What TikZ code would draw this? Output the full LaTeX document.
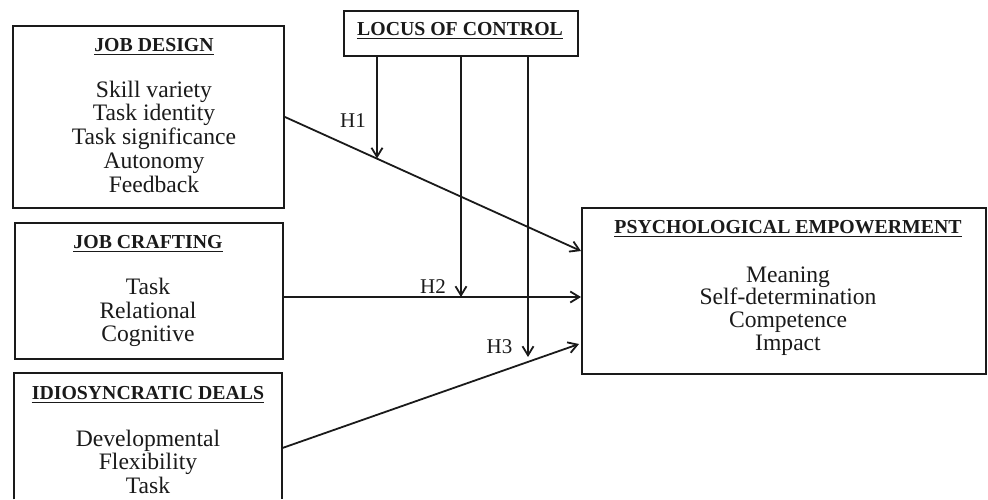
\documentclass[tikz,border=0pt]{standalone}
\usepackage{fontspec}
\setmainfont{Liberation Serif}
\usetikzlibrary{arrows.meta,calc}
\definecolor{ink}{HTML}{1A1A1A}
\tikzset{
  box/.style={draw=ink, line width=2pt, inner sep=0pt, anchor=north west},
  item/.style={inner sep=0pt, anchor=base, text=ink, font=\fontsize{23.6}{24}\selectfont},
  ttl/.style={inner sep=0pt, anchor=base, text=ink, font=\bfseries\fontsize{19.8}{20}\selectfont},
  hlab/.style={inner sep=0pt, anchor=base, text=ink, font=\fontsize{21}{21}\selectfont},
  uline/.style={draw=ink, line width=1.6pt},
  conn/.style={draw=ink, line width=1.8pt, -{Straight Barb[length=9pt,width=11pt,line width=1.8pt]}}
}
\begin{document}
\begin{tikzpicture}[x=1pt,y=-1pt]
\useasboundingbox (0,0) rectangle (988,499);
% boxes
\node[box, minimum width=271pt, minimum height=182pt] (jd) at (12,25) {};
\node[box, minimum width=234pt, minimum height=45pt] (loc) at (343,10) {};
\node[box, minimum width=268pt, minimum height=136pt] (jc) at (14,222) {};
\node[inner sep=0pt, anchor=north west, minimum width=268pt, minimum height=126pt] (idi) at (14,373) {};
\draw[draw=ink, line width=2pt] (idi.south west) -- (idi.north west) -- (idi.north east) -- (idi.south east);
\node[box, minimum width=404pt, minimum height=166pt] (psy) at (581,207) {};
% titles
\node[ttl] (jdt) at (154,51) {JOB DESIGN};
\node[ttl] (loct) at (460,35) {LOCUS OF CONTROL};
\node[ttl] (jct) at (148,248) {JOB CRAFTING};
\node[ttl] (idit) at (148,399) {IDIOSYNCRATIC DEALS};
\node[ttl] (psyt) at (788,233) {PSYCHOLOGICAL EMPOWERMENT};
\foreach \n in {jdt,loct,jct,idit,psyt}
  \draw[uline] ([yshift=-3.5pt]\n.base west) -- ([yshift=-3.5pt]\n.base east);
% items
\foreach \t [count=\i] in {Skill variety, Task identity, Task significance, Autonomy, Feedback}
  \node[item] (jd\i) at (154,{97+(\i-1)*23.8}) {\t};
\foreach \t [count=\i] in {Task, Relational, Cognitive}
  \node[item] (jc\i) at (148,{294.3+(\i-1)*23.7}) {\t};
\foreach \t [count=\i] in {Developmental, Flexibility, Task}
  \node[item] (idi\i) at (148,{446+(\i-1)*23.5}) {\t};
\foreach \t [count=\i] in {Meaning, Self-determination, Competence, Impact}
  \node[item] (psy\i) at (788,{282+(\i-1)*22.7}) {\t};
% labels
\node[hlab] (h1) at (353,127) {H1};
\node[hlab] (h2) at (433,293) {H2};
\node[hlab] (h3) at (499.5,353) {H3};
% connectors
\draw[conn] (jd.east) -- ($(psy.north west)+(0,44)$);
\draw[conn] ($(jc.north east)+(0,75)$) -- ($(psy.north west)+(0,90)$);
\draw[conn] ($(idi.north east)+(0,75)$) -- ($(psy.north west)+(-2,137)$);
\coordinate (t1) at (377,158.5);
\coordinate (t2) at (461,297);
\coordinate (t3) at (528,357);
\draw[conn] ($(loc.south west)+(34,0)$) -- (t1);
\draw[conn] ($(loc.south west)+(118,0)$) -- (t2);
\draw[conn] ($(loc.south west)+(185,0)$) -- (t3);
\end{tikzpicture}
\end{document}
